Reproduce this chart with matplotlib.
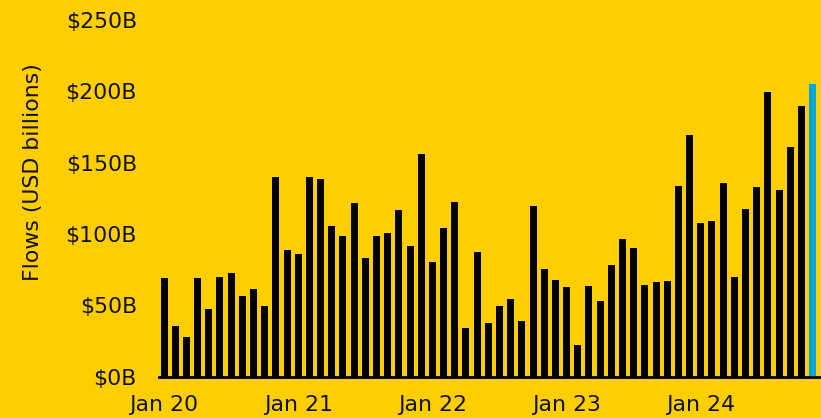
import matplotlib
matplotlib.use("Agg")
import matplotlib.pyplot as plt
import pandas as pd

# Monthly flows, Jan 2020 .. Nov 2024 (USD billions)
months = list(pd.date_range("2020-01-01", periods=59, freq="MS").strftime("%b %y"))
flows = [69.5, 35.7, 27.5, 69.0, 47.5, 70.2, 72.5, 56.8, 61.5, 49.6, 140.0, 88.7,
         86.2, 139.7, 138.5, 106.0, 98.4, 122.0, 83.4, 98.8, 100.7, 116.9, 91.3, 155.9,
         80.6, 104.5, 122.8, 34.3, 87.6, 38.0, 49.8, 54.5, 39.0, 119.5, 75.8, 67.9,
         62.7, 22.3, 63.6, 53.3, 78.4, 96.7, 90.1, 64.6, 66.2, 66.9, 133.6, 169.3,
         108.0, 109.4, 135.5, 70.2, 117.6, 132.7, 199.6, 130.8, 161.0, 189.7, 205.4]
tick_labels = ["Jan 20", "Jan 21", "Jan 22", "Jan 23", "Jan 24"]
y_ticks = [0, 50, 100, 150, 200, 250]

BG = "#FFCE00"
BAR = "#000000"
HIGHLIGHT = "#00A6D6"

plt.rcParams['font.family'] = ['DejaVu Sans']

fig = plt.figure(figsize=(8.21, 4.18), dpi=100, facecolor=BG)
ax = fig.add_axes([0.1937, 0.0988, 0.806, 0.853])
ax.set_facecolor(BG)

x = list(range(len(months)))
colors = [BAR] * (len(flows) - 1) + [HIGHLIGHT]
ax.bar(x, flows, width=0.63, color=colors, zorder=2)

ax.set_xlim(-0.45, 58.73)
ax.set_ylim(0, 250)
ax.set_yticks(y_ticks)
ax.set_yticklabels([f"${v}B" for v in y_ticks])
jan_pos = [i for i, m in enumerate(months) if m.startswith("Jan")]
ax.set_xticks(jan_pos)
ax.set_xticklabels(tick_labels)

for s in ["top", "right", "left"]:
    ax.spines[s].set_visible(False)
ax.spines["bottom"].set_linewidth(2)
ax.spines["bottom"].set_color("black")
ax.spines["bottom"].set_zorder(3)

ax.tick_params(axis="y", length=0, pad=16, labelsize=15.8, colors="#111111")
ax.tick_params(axis="x", length=0, pad=13, labelsize=15.8, colors="#111111")

ax.set_ylabel("Flows (USD billions)", fontsize=15.8, color="#111111")
ax.yaxis.set_label_coords(-0.175, 0.575)

fig.savefig("out.png", dpi=100, facecolor=BG)
